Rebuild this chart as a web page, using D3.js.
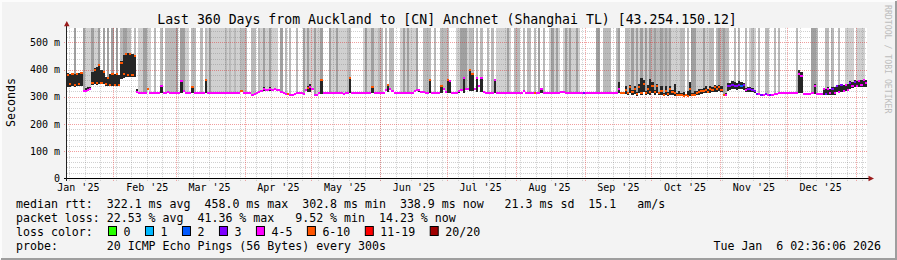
<!DOCTYPE html>
<html>
<head>
<meta charset="utf-8">
<script src="https://cdn.jsdelivr.net/npm/d3@7"></script>
<style>
  html, body { margin: 0; padding: 0; background: #f3f3f3; }
  svg { display: block; font-family: "DejaVu Sans Mono", monospace; }
  text { white-space: pre; }
</style>
</head>
<body>
<svg id="chart" width="897" height="260"></svg>
<script>
// time window: last 360 days up to the graph timestamp
const startTime = new Date(Date.UTC(2025, 0, 11, 2, 36, 6));
const endTime = new Date(Date.UTC(2026, 0, 6, 2, 36, 6));

// median rtt per day (ms)
const medianRtt = [
  380,346,383,344,382,345,386,320,322,324,
  327,352,400,350,418,352,392,345,370,344,
  384,342,382,343,425,382,458,380,456,381,
  450,318,314,313,314,315,329,314,313,313,
  314,313,340,314,313,318,314,313,313,314,
  313,358,320,313,313,312,336,314,313,313,
  314,313,360,315,313,313,312,313,313,314,
  313,313,313,312,313,313,314,313,322,314,
  313,313,312,306,310,314,318,322,330,326,
  325,327,326,327,326,324,318,312,310,311,
  306,305,309,313,314,312,311,325,333,336,
  328,306,305,313,362,314,313,313,313,313,
  314,313,313,312,310,312,313,367,314,313,
  313,313,313,313,313,314,313,334,314,313,
  313,313,313,326,342,330,320,314,313,313,
  313,313,313,313,314,313,322,326,324,318,
  316,315,314,360,315,314,314,314,338,330,
  318,362,356,314,313,313,322,326,368,330,
  328,397,382,330,370,340,370,318,313,313,
  313,313,360,312,312,312,312,312,312,312,
  312,312,312,312,312,322,312,312,312,312,
  312,312,312,330,312,312,312,312,312,312,
  312,312,318,316,312,312,312,312,312,312,
  312,312,312,312,312,312,312,312,312,312,
  312,312,312,312,312,312,312,312,330,314,
  312,326,312,334,318,330,310,336,315,345,
  312,330,318,340,316,338,312,322,308,320,
  310,330,316,312,305,308,306,304,305,303,
  330,305,306,315,318,322,320,326,318,330,
  325,334,328,336,326,305,306,340,338,342,
  340,338,342,340,342,326,328,330,326,320,
  310,309,308,308,309,308,308,308,310,310,
  313,313,313,313,313,313,313,313,313,385,
  376,310,310,310,310,312,340,310,310,310,
  328,310,330,312,329,313,340,318,342,320,
  342,325,350,338,355,340,356,342,360,350
];

// loss class per day, index into lossLabels
const lossClass =
  "5555555444" + "4555555555" + "5555555555" + "5444445444" +
  "4444444444" + "4444445444" + "4454444444" + "4444444454" +
  "4444444444" + "4444444445" + "4444444454" + "4444544444" +
  "4444444544" + "4444444544" + "4444544444" + "4444444444" +
  "4445444454" + "4544444444" + "4554444444" + "4444444444" +
  "4444444444" + "5444444444" + "4444444444" + "4434444444" +
  "4444444445" + "5555555555" + "5555555555" + "5555555555" +
  "5555555555" + "5555554333" + "3332343333" + "3434343444" +
  "4444444444" + "4444444444" + "4344343434" + "4434344444";

// pings beyond the graph top per day: 0 none, 1 few, 2 more, 3 many
const overflow =
  "0003000311" + "1311303030" + "3030233220" + "2011331102" +
  "0020222223" + "0331102200" + "2021311111" + "1212121122" +
  "2002202131" + "1311103020" + "2002003131" + "1311300031" +
  "1311112200" + "0001311311" + "2202022000" + "1313111300" +
  "2222020022" + "2200011333" + "1220202002" + "0201111131" +
  "0222020220" + "2030200131" + "3101313113" + "1000000033" +
  "0222200230" + "0221313131" + "3132322323" + "2311112202" +
  "0331113112" + "2023232200" + "2020020121" + "0200220020" +
  "2000000020" + "0000033200" + "0220200200" + "1111011110";

// smoke spread: [day, low ms, high ms]
const smoke = [
  [0,337,386],[1,336,384],[2,338,388],[3,336,383],[4,338,385],[5,340,387],[6,339,390],
  [7,316,326],[8,319,332],[9,321,334],[10,323,336],
  [11,342,392],[12,345,405],[13,342,410],[14,346,422],[15,348,400],[16,348,395],
  [17,340,372],[18,340,374],[19,341,384],[20,340,387],[21,338,382],[22,340,385],[23,341,380],
  [24,365,430],[25,370,455],[26,372,461],[27,372,459],[28,374,458],[29,372,456],[30,372,452],
  [31,314,330],
  [42,313,344],[51,313,362],[56,313,338],[62,313,363],[88,320,336],[91,322,336],
  [108,318,340],[109,318,345],[114,310,366],[127,312,369],[137,313,336],[144,318,344],
  [158,318,330],[163,313,362],[168,314,340],[171,313,366],[172,314,358],[176,314,326],
  [178,314,370],[181,320,398],[182,320,384],[184,318,372],[186,318,372],[192,312,362],
  [213,312,331],[248,312,355],
  [251,310,338],[252,306,318],[253,312,344],[254,308,326],[255,310,340],[256,304,316],
  [257,312,348],[258,306,368],[259,316,360],[260,305,320],[261,310,342],[262,306,366],
  [263,314,354],[264,306,326],[265,312,346],[266,305,318],[267,308,338],[268,303,314],
  [269,306,340],[270,304,316],[271,308,340],[272,305,324],[273,302,348],[274,301,312],
  [275,302,322],[276,301,312],[277,300,318],[278,301,310],[279,300,320],[280,302,354],
  [281,302,312],[282,303,322],[283,305,322],[284,308,330],[285,310,330],[286,312,332],
  [287,314,338],[288,312,330],[289,315,340],[290,316,334],[291,318,342],[292,318,338],
  [293,320,344],[294,316,338],[295,303,310],[296,303,312],
  [297,322,350],[298,326,352],[299,328,356],[300,328,354],[301,326,352],[302,328,357],
  [303,328,355],[304,326,352],[305,318,332],[306,318,334],[307,318,336],[308,316,332],
  [309,312,326],[329,312,398],[330,312,392],[336,310,348],
  [340,305,332],[341,305,330],[342,306,334],[343,306,330],[344,307,334],[345,308,335],
  [346,316,342],[347,316,344],[348,318,346],[349,318,342],[350,320,346],[351,322,348],
  [352,330,356],[353,332,355],[354,334,360],[355,334,358],[356,335,362],[357,336,360],
  [358,336,364],[359,334,360]
];

const yTicks = [0, 100, 200, 300, 400, 500];
const yLabels = ["0", "100 m", "200 m", "300 m", "400 m", "500 m"];
const xLabelDates = [
  "2025-01-16", "2025-02-16", "2025-03-16", "2025-04-16", "2025-05-16", "2025-06-16",
  "2025-07-16", "2025-08-16", "2025-09-16", "2025-10-16", "2025-11-16", "2025-12-16"
];
const xLabels = [
  "Jan '25", "Feb '25", "Mar '25", "Apr '25", "May '25", "Jun '25",
  "Jul '25", "Aug '25", "Sep '25", "Oct '25", "Nov '25", "Dec '25"
];

const lossLabels = ["0", "1", "2", "3", "4-5", "6-10", "11-19", "20/20"];
const lossColors = ["#26ff00", "#00b8ff", "#0059ff", "#7e00ff", "#ff00ff", "#ff5500", "#ff0000", "#a00000"];

const rttStats = [322.1, 458.0, 302.8, 338.9, 21.3, 15.1];
const lossStats = [22.53, 41.36, 9.52, 14.23];

(function () {
  const svg = d3.select("#chart");
  const W = 897, H = 260;
  const pLeft = 67, pRight = 867, pTop = 27.9, pBottom = 178.3;

  const x = d3.scaleUtc().domain([startTime, endTime]).range([pLeft, pRight]);
  const y = d3.scaleLinear().domain([0, 553]).range([pBottom, pTop]);
  const dayT = i => d3.utcDay.offset(startTime, i);

  // canvas + frame
  svg.append("rect").attr("width", W).attr("height", H).attr("fill", "#f3f3f3");
  svg.append("path").attr("d", `M1,${H - 1}V1H${W - 1}`).attr("stroke", "#fcfcfc").attr("stroke-width", 2).attr("fill", "none");
  svg.append("path").attr("d", `M1,${H - 1}H${W - 1}V1`).attr("stroke", "#9e9e9e").attr("stroke-width", 2).attr("fill", "none");

  svg.append("rect")
    .attr("x", pLeft).attr("y", pTop)
    .attr("width", pRight - pLeft).attr("height", pBottom - pTop)
    .attr("fill", "#fff");

  // overflow stripes (pings above the graph top)
  const shades = [null, "#d0d0d0", "#bababa", "#a0a0a0"];
  svg.append("g").attr("shape-rendering", "crispEdges")
    .selectAll("rect")
    .data(medianRtt.map((m, i) => ({ i, m, lv: +overflow[i] })).filter(d => d.lv > 0))
    .join("rect")
    .attr("x", d => x(dayT(d.i)))
    .attr("width", d => x(dayT(d.i + 1)) - x(dayT(d.i)))
    .attr("y", pTop)
    .attr("height", d => y(d.m) - pTop)
    .attr("fill", d => shades[d.lv]);

  // grid
  const grid = svg.append("g").attr("fill", "none").attr("stroke-dasharray", "1,1");
  const minorY = d3.range(20, 553, 20).filter(v => v % 100 !== 0);
  grid.selectAll(".hmin").data(minorY).join("line")
    .attr("x1", pLeft).attr("x2", pRight)
    .attr("y1", d => Math.round(y(d)) + 0.5).attr("y2", d => Math.round(y(d)) + 0.5)
    .attr("stroke", "rgba(120,120,120,0.35)");
  const weeks = d3.utcSunday.range(startTime, endTime);
  grid.selectAll(".vmin").data(weeks).join("line")
    .attr("x1", d => Math.round(x(d)) + 0.5).attr("x2", d => Math.round(x(d)) + 0.5)
    .attr("y1", pTop).attr("y2", pBottom + 3)
    .attr("stroke", "rgba(120,120,120,0.35)");
  grid.selectAll(".hmaj").data(yTicks.slice(1)).join("line")
    .attr("x1", pLeft - 3).attr("x2", pRight)
    .attr("y1", d => Math.round(y(d)) + 0.5).attr("y2", d => Math.round(y(d)) + 0.5)
    .attr("stroke", "rgba(225,40,40,0.45)");
  const months = d3.utcMonth.range(startTime, endTime);
  grid.selectAll(".vmaj").data(months).join("line")
    .attr("x1", d => Math.round(x(d)) + 0.5).attr("x2", d => Math.round(x(d)) + 0.5)
    .attr("y1", pTop).attr("y2", pBottom + 3)
    .attr("stroke", "rgba(225,40,40,0.45)");

  // smoke
  svg.append("g").attr("shape-rendering", "crispEdges")
    .selectAll("rect").data(smoke).join("rect")
    .attr("x", d => x(dayT(d[0])))
    .attr("width", d => x(dayT(d[0] + 1)) - x(dayT(d[0])))
    .attr("y", d => y(d[2]))
    .attr("height", d => y(d[1]) - y(d[2]))
    .attr("fill", "#262626");

  // median, coloured by loss
  svg.append("g").attr("shape-rendering", "crispEdges")
    .selectAll("rect").data(medianRtt).join("rect")
    .attr("x", (d, i) => x(dayT(i)))
    .attr("width", (d, i) => x(dayT(i + 1)) - x(dayT(i)))
    .attr("y", d => y(d) - 1)
    .attr("height", 2)
    .attr("fill", (d, i) => lossColors[+lossClass[i]]);

  // axes
  const yAxis = svg.append("g")
    .attr("transform", `translate(${pLeft},0)`)
    .call(d3.axisLeft(y).tickValues(yTicks).tickFormat((d, i) => yLabels[i]).tickSize(0).tickPadding(7));
  yAxis.select(".domain").remove();
  yAxis.selectAll("text").attr("font-family", "DejaVu Sans Mono").attr("font-size", 10).attr("fill", "#000");

  const xAxis = svg.append("g")
    .attr("transform", `translate(0,${pBottom})`)
    .call(d3.axisBottom(x).tickValues(xLabelDates.map(s => new Date(s + "T00:00:00Z")))
      .tickFormat((d, i) => xLabels[i]).tickSize(0));
  xAxis.select(".domain").remove();
  xAxis.selectAll("text").attr("y", 13).attr("dy", null)
    .attr("font-family", "DejaVu Sans Mono").attr("font-size", 10).attr("fill", "#000");

  svg.append("line").attr("x1", pLeft - 3).attr("x2", pRight + 2)
    .attr("y1", 178.5).attr("y2", 178.5).attr("stroke", "#000");
  svg.append("line").attr("x1", 66.5).attr("x2", 66.5)
    .attr("y1", 181).attr("y2", 25).attr("stroke", "#222");
  svg.append("path").attr("d", "M868.5,175.8L874,178.5L868.5,181.2Z").attr("fill", "#9b1c1c");
  svg.append("path").attr("d", "M64,26.2L66.8,21L69.6,26.2Z").attr("fill", "#9b1c1c");

  // title + labels
  svg.append("text").attr("x", 447).attr("y", 23.5).attr("text-anchor", "middle")
    .attr("font-size", 13.2).attr("fill", "#000")
    .text("Last 360 Days from Auckland to [CN] Anchnet (Shanghai TL) [43.254.150.12]");
  svg.append("text").attr("transform", "translate(15,102.5) rotate(-90)")
    .attr("text-anchor", "middle").attr("font-size", 11.6).attr("fill", "#000").text("Seconds");
  svg.append("text").attr("transform", "translate(884.5,5) rotate(90)")
    .attr("font-size", 8.2).attr("fill", "#bdbdbd").text("RRDTOOL / TOBI OETIKER");

  // legend
  const f = (v, n) => v.toFixed(n).padStart(5);
  const rows = [207.5, 221.5, 235.5, 249.5];
  const leg = svg.append("g").attr("font-size", 11.6).attr("fill", "#000");
  leg.append("text").attr("x", 16).attr("y", rows[0])
    .text(`median rtt:  ${f(rttStats[0], 1)} ms avg  ${f(rttStats[1], 1)} ms max  ${f(rttStats[2], 1)} ms min  ${f(rttStats[3], 1)} ms now  ${f(rttStats[4], 1)} ms sd  ${rttStats[5].toFixed(1)}   am/s`);
  leg.append("text").attr("x", 16).attr("y", rows[1])
    .text(`packet loss: ${f(lossStats[0], 2)} % avg  ${f(lossStats[1], 2)} % max  ${f(lossStats[2], 2)} % min  ${f(lossStats[3], 2)} % now`);
  leg.append("text").attr("x", 16).attr("y", rows[2]).text("loss color:");
  let bx = 108.5;
  lossLabels.forEach((lab, i) => {
    leg.append("rect").attr("x", bx).attr("y", 226.5).attr("width", 8).attr("height", 9)
      .attr("fill", lossColors[i]).attr("stroke", "#000").attr("stroke-width", 1);
    const t = leg.append("text").attr("x", bx + 15).attr("y", rows[2]).text(lab);
    bx = bx + 15 + t.node().getComputedTextLength() + 15;
  });
  leg.append("text").attr("x", 16).attr("y", rows[3])
    .text("probe:       20 ICMP Echo Pings (56 Bytes) every 300s");
  leg.append("text").attr("x", 881).attr("y", rows[3]).attr("text-anchor", "end")
    .text("Tue Jan  6 02:36:06 2026");
})();
</script>
</body>
</html>
